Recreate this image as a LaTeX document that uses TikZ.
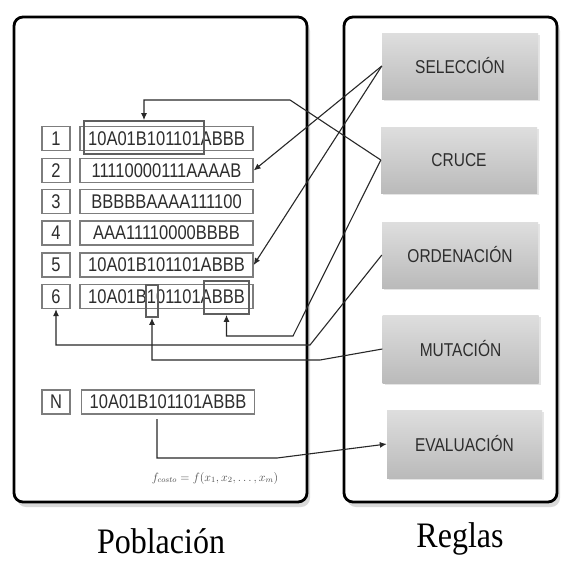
\documentclass[tikz,border=0pt]{standalone}
\usepackage{fontspec}
\usepackage{graphicx}
\newfontfamily\boxfont{Liberation Sans}
\newfontfamily\titlefont{Liberation Serif}
\newcommand{\stretchtxt}[1]{\scalebox{1}[1.2]{#1}}
\newcommand{\stretchtitle}[1]{\scalebox{1}[1.12]{#1}}
\usetikzlibrary{arrows.meta,shadows,calc}
\definecolor{rulTop}{RGB}{222,222,222}
\definecolor{rulBot}{RGB}{186,186,186}
\definecolor{txt}{RGB}{45,45,45}
\definecolor{boxgray}{RGB}{125,125,125}
\definecolor{hlgray}{RGB}{95,95,95}
\definecolor{lineC}{RGB}{40,40,40}
\tikzset{
  panel/.style={draw=black, line width=2.8pt, rounded corners=9pt, fill=white,
    drop shadow={shadow xshift=3pt, shadow yshift=-5pt, opacity=0.3, fill=gray}},
  rulebox/.style={rectangle, minimum width=156pt, minimum height=66pt, inner sep=0pt,
    top color=rulTop, bottom color=rulBot, text=txt,
    font=\fontsize{15.5}{17}\selectfont\boxfont,
    drop shadow={shadow xshift=2pt, shadow yshift=-2pt, opacity=0.2, fill=gray}},
  numbox/.style={draw=boxgray, line width=1.3pt, fill=white, minimum width=28pt,
    minimum height=24pt, inner sep=0pt, text=txt, font=\fontsize{16.5}{18}\selectfont\boxfont},
  strbox/.style={numbox, minimum width=173pt},
  hl/.style={draw=hlgray, line width=1.8pt, inner sep=0pt, rectangle},
  conn/.style={draw=lineC, line width=1.1pt},
  arr/.style={conn, -{Latex[length=7pt,width=6pt]}},
  title/.style={font=\fontsize{32}{34}\selectfont\titlefont, anchor=base, text=black}
}
\begin{document}
\begin{tikzpicture}[x=1pt,y=-1pt]
\useasboundingbox (0,0) rectangle (585,574);
% panels
\node[panel, minimum width=293pt, minimum height=485pt] (pob) at (160.5,259.5) {};
\node[panel, minimum width=213pt, minimum height=485pt] (reg) at (450.5,259.5) {};
% rule boxes
\node[rulebox] (sel) at (460,66) {\stretchtxt{SELECCIÓN}};
\node[rulebox] (cru) at (459,160) {\stretchtxt{CRUCE}};
\node[rulebox] (ord) at (460,255) {\stretchtxt{ORDENACIÓN}};
\node[rulebox, minimum height=68pt] (mut) at (460.5,349) {\stretchtxt{MUTACIÓN}};
\node[rulebox, minimum height=68pt, minimum width=155pt] (eva) at (464.5,444) {\stretchtxt{EVALUACIÓN}};
% rows
\node[numbox] (n1) at (56,138.5) {\stretchtxt{1}};
\node[strbox] (s1) at (166.5,138.5) {\stretchtxt{10A01B101101ABBB}};
\node[numbox] (n2) at (56,170.5) {\stretchtxt{2}};
\node[strbox] (s2) at (166.5,170.5) {\stretchtxt{11110000111AAAAB}};
\node[numbox] (n3) at (56,201.5) {\stretchtxt{3}};
\node[strbox] (s3) at (166.5,201.5) {\stretchtxt{BBBBBAAAA111100}};
\node[numbox] (n4) at (56,233) {\stretchtxt{4}};
\node[strbox] (s4) at (166.5,233) {\stretchtxt{AAA11110000BBBB}};
\node[numbox] (n5) at (56,265) {\stretchtxt{5}};
\node[strbox] (s5) at (166.5,265) {\stretchtxt{10A01B101101ABBB}};
\node[numbox] (n6) at (56,296.5) {\stretchtxt{6}};
\node[strbox] (s6) at (166.5,296.5) {\stretchtxt{10A01B101101ABBB}};
\node[numbox] (nN) at (56,402) {\stretchtxt{N}};
\node[strbox] (sN) at (168,402) {\stretchtxt{10A01B101101ABBB}};
% highlights
\node[hl, minimum width=120pt, minimum height=33pt] (h1) at (144,137.5) {};
\node[hl, minimum width=12pt, minimum height=32pt] (h6a) at (152,301) {};
\node[hl, minimum width=45pt, minimum height=33pt] (h6b) at (226.5,297.5) {};
% formula
\node[text=black!70, font=\fontsize{12}{14}\selectfont] (fc) at (215,478) {$f_{costo}=f(x_1,x_2,\ldots,x_m)$};
% titles
\node[title] (tp) at (161,553) {\stretchtitle{Población}};
\node[title] (tr) at (460,547) {\stretchtitle{Reglas}};
% connectors
\coordinate (k1) at (290,100);
\coordinate (k2) at (293,336);
\coordinate (k3) at (310,345);
\coordinate (k4) at (320,360);
\coordinate (e0) at (157,419);
\coordinate (e1) at (157,458);
\coordinate (e2) at (277,458);
\draw[arr] (sel.west) -- (s2.east);
\draw[arr] (sel.west) -- (s5.east);
\draw[arr] (cru.west) -- (k1) -| (h1.north);
\draw[arr] (cru.west) -- (k2) -| (h6b.south);
\draw[arr] (ord.west) -- (k3) -| (n6.south);
\draw[arr] (mut.west) -- (k4) -| (h6a.south);
\draw[arr] (e0) -- (e1) -- (e2) -- (eva.west);
\end{tikzpicture}
\end{document}
